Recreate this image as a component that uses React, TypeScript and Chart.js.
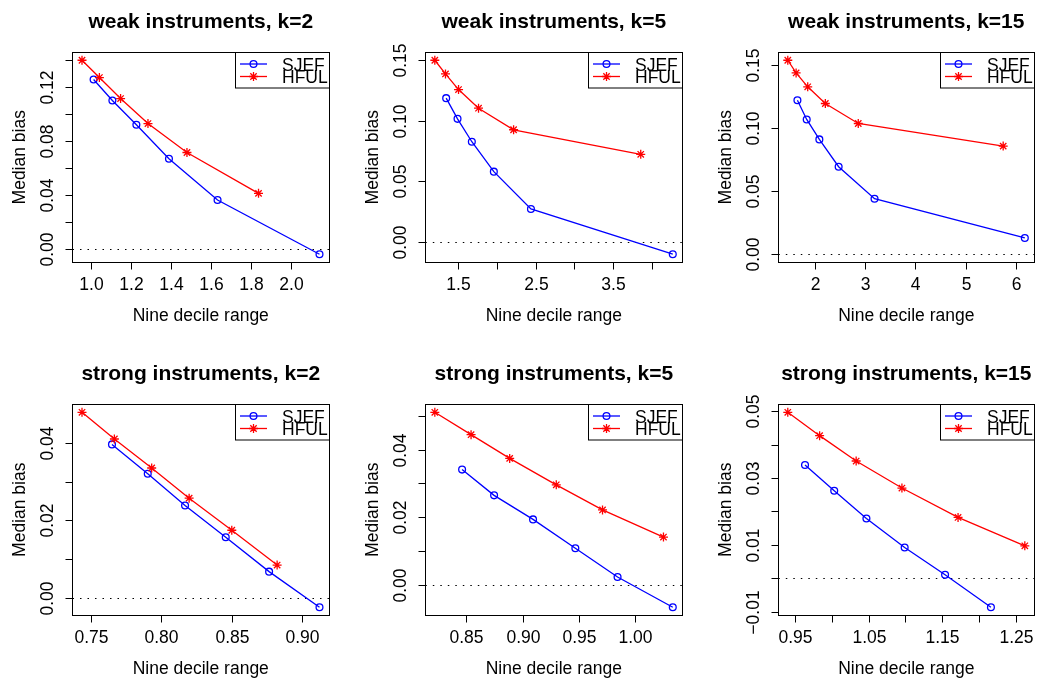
import React, { useEffect, useRef } from "react";
import { Chart, registerables } from "chart.js";
Chart.register(...registerables);

// ---------- data ----------
const weak2Title = "weak instruments, k=2";
const weak2SjefX = [1.013, 1.107, 1.227, 1.39, 1.633, 2.143];
const weak2SjefY = [0.1253, 0.1098, 0.0918, 0.0667, 0.0362, -0.0039];
const weak2HfulX = [0.955, 1.042, 1.148, 1.285, 1.48, 1.838];
const weak2HfulY = [0.1395, 0.1267, 0.1112, 0.0927, 0.0713, 0.0411];
const weak2XTicks = [1.0, 1.2, 1.4, 1.6, 1.8, 2.0];
const weak2XLabels = ["1.0", "1.2", "1.4", "1.6", "1.8", "2.0"];
const weak2YTicks = [0, 0.02, 0.04, 0.06, 0.08, 0.1, 0.12, 0.14];
const weak2YLabels = ["0.00", "", "0.04", "", "0.08", "", "0.12", ""];

const weak5Title = "weak instruments, k=5";
const weak5SjefX = [1.35, 1.496, 1.68, 1.963, 2.44, 4.264];
const weak5SjefY = [0.1187, 0.1016, 0.0827, 0.058, 0.0272, -0.0102];
const weak5HfulX = [1.204, 1.341, 1.509, 1.766, 2.217, 3.852];
const weak5HfulY = [0.15, 0.1387, 0.1258, 0.1104, 0.0926, 0.0723];
const weak5XTicks = [1.5, 2, 2.5, 3, 3.5, 4];
const weak5XLabels = ["1.5", "", "2.5", "", "3.5", ""];
const weak5YTicks = [0, 0.05, 0.1, 0.15];
const weak5YLabels = ["0.00", "0.05", "0.10", "0.15"];

const weak15Title = "weak instruments, k=15";
const weak15SjefX = [1.649, 1.834, 2.086, 2.47, 3.185, 6.179];
const weak15SjefY = [0.1218, 0.1066, 0.0908, 0.0692, 0.0439, 0.0129];
const weak15HfulX = [1.457, 1.623, 1.854, 2.205, 2.861, 5.748];
const weak15HfulY = [0.1534, 0.1434, 0.1324, 0.1192, 0.1034, 0.0855];
const weak15XTicks = [2, 3, 4, 5, 6];
const weak15XLabels = ["2", "3", "4", "5", "6"];
const weak15YTicks = [0, 0.05, 0.1, 0.15];
const weak15YLabels = ["0.00", "0.05", "0.10", "0.15"];

const strong2Title = "strong instruments, k=2";
const strong2SjefX = [0.7649, 0.7903, 0.8168, 0.8457, 0.8765, 0.9123];
const strong2SjefY = [0.0396, 0.032, 0.0238, 0.0156, 0.0067, -0.0025];
const strong2HfulX = [0.7436, 0.7666, 0.7931, 0.8197, 0.85, 0.8822];
const strong2HfulY = [0.0479, 0.041, 0.0335, 0.0257, 0.0174, 0.0084];
const strong2XTicks = [0.75, 0.8, 0.85, 0.9];
const strong2XLabels = ["0.75", "0.80", "0.85", "0.90"];
const strong2YTicks = [0, 0.01, 0.02, 0.03, 0.04];
const strong2YLabels = ["0.00", "", "0.02", "", "0.04"];

const strong5Title = "strong instruments, k=5";
const strong5SjefX = [0.8461, 0.8746, 0.9093, 0.947, 0.9846, 1.0338];
const strong5SjefY = [0.0341, 0.0265, 0.0194, 0.0109, 0.0024, -0.0065];
const strong5HfulX = [0.8218, 0.8541, 0.8885, 0.93, 0.9712, 1.0255];
const strong5HfulY = [0.051, 0.0444, 0.0374, 0.0296, 0.0222, 0.0142];
const strong5XTicks = [0.85, 0.9, 0.95, 1.0];
const strong5XLabels = ["0.85", "0.90", "0.95", "1.00"];
const strong5YTicks = [0, 0.01, 0.02, 0.03, 0.04, 0.05];
const strong5YLabels = ["0.00", "", "0.02", "", "0.04", ""];

const strong15Title = "strong instruments, k=15";
const strong15SjefX = [0.9631, 1.0029, 1.0468, 1.0989, 1.154, 1.2165];
const strong15SjefY = [0.0339, 0.0262, 0.0179, 0.0092, 0.001, -0.0087];
const strong15HfulX = [0.9396, 0.983, 1.0328, 1.0952, 1.1717, 1.2627];
const strong15HfulY = [0.0497, 0.0427, 0.0351, 0.027, 0.0182, 0.0097];
const strong15XTicks = [0.95, 1.0, 1.05, 1.1, 1.15, 1.2, 1.25];
const strong15XLabels = ["0.95", "", "1.05", "", "1.15", "", "1.25"];
const strong15YTicks = [-0.01, 0, 0.01, 0.02, 0.03, 0.04, 0.05];
const strong15YLabels = ["\u22120.01", "", "0.01", "", "0.03", "", "0.05"];

const seriesNames = ["SJEF", "HFUL"];
const xAxisTitle = "Nine decile range";
const yAxisTitle = "Median bias";

// ---------- layout ----------
const colCells = [
  [0, 352],
  [352, 705],
  [705, 1039],
];
const rowCells = [
  [0, 345],
  [345, 678],
];
const colAreas = [
  [72.5, 329],
  [425.3, 682.3],
  [778.3, 1034.3],
];
const rowAreas = [
  [52.5, 262],
  [404.5, 615],
];

const FONT = '"Liberation Sans", Arial, Helvetica, sans-serif';
const BLUE = "#0000ff";
const RED = "#ff0000";
const LW = 1.3;

type PanelDef = {
  title: string;
  sx: number[];
  sy: number[];
  hx: number[];
  hy: number[];
  xt: number[];
  xl: string[];
  yt: number[];
  yl: string[];
  row: number;
  col: number;
};

const panels: PanelDef[] = [
  { title: weak2Title, sx: weak2SjefX, sy: weak2SjefY, hx: weak2HfulX, hy: weak2HfulY, xt: weak2XTicks, xl: weak2XLabels, yt: weak2YTicks, yl: weak2YLabels, row: 0, col: 0 },
  { title: weak5Title, sx: weak5SjefX, sy: weak5SjefY, hx: weak5HfulX, hy: weak5HfulY, xt: weak5XTicks, xl: weak5XLabels, yt: weak5YTicks, yl: weak5YLabels, row: 0, col: 1 },
  { title: weak15Title, sx: weak15SjefX, sy: weak15SjefY, hx: weak15HfulX, hy: weak15HfulY, xt: weak15XTicks, xl: weak15XLabels, yt: weak15YTicks, yl: weak15YLabels, row: 0, col: 2 },
  { title: strong2Title, sx: strong2SjefX, sy: strong2SjefY, hx: strong2HfulX, hy: strong2HfulY, xt: strong2XTicks, xl: strong2XLabels, yt: strong2YTicks, yl: strong2YLabels, row: 1, col: 0 },
  { title: strong5Title, sx: strong5SjefX, sy: strong5SjefY, hx: strong5HfulX, hy: strong5HfulY, xt: strong5XTicks, xl: strong5XLabels, yt: strong5YTicks, yl: strong5YLabels, row: 1, col: 1 },
  { title: strong15Title, sx: strong15SjefX, sy: strong15SjefY, hx: strong15HfulX, hy: strong15HfulY, xt: strong15XTicks, xl: strong15XLabels, yt: strong15YTicks, yl: strong15YLabels, row: 1, col: 2 },
];

function rRange(vals: number[]) {
  const mn = Math.min(...vals);
  const mx = Math.max(...vals);
  const ext = (mx - mn) * 0.04;
  return [mn - ext, mx + ext];
}

function drawStar(ctx: CanvasRenderingContext2D, x: number, y: number, r: number) {
  const d = r * Math.SQRT1_2;
  ctx.beginPath();
  ctx.moveTo(x - r, y);
  ctx.lineTo(x + r, y);
  ctx.moveTo(x, y - r);
  ctx.lineTo(x, y + r);
  ctx.moveTo(x - d, y - d);
  ctx.lineTo(x + d, y + d);
  ctx.moveTo(x - d, y + d);
  ctx.lineTo(x + d, y - d);
  ctx.stroke();
}

function makePlugin(p: PanelDef) {
  return {
    id: "rstyle",
    beforeDatasetsDraw(chart: any) {
      const { ctx, chartArea } = chart;
      const ys = chart.scales.y;
      const y0 = Math.round(ys.getPixelForValue(0)) + 0.5;
      ctx.save();
      ctx.strokeStyle = "#000";
      ctx.lineWidth = 1;
      ctx.setLineDash([1.5, 6]);
      ctx.beginPath();
      ctx.moveTo(chartArea.left, y0);
      ctx.lineTo(chartArea.right, y0);
      ctx.stroke();
      ctx.restore();
    },
    afterDraw(chart: any) {
      const { ctx, chartArea } = chart;
      const xs = chart.scales.x;
      const ys = chart.scales.y;
      const L = chartArea.left;
      const R = chartArea.right;
      const T = chartArea.top;
      const B = chartArea.bottom;
      ctx.save();
      ctx.strokeStyle = "#000";
      ctx.fillStyle = "#000";
      ctx.lineWidth = 1;
      ctx.setLineDash([]);
      // box
      const bl = Math.floor(L) + 0.5;
      const br = Math.floor(R) + 0.5;
      const bt = Math.floor(T) + 0.5;
      const bb = Math.floor(B) + 0.5;
      ctx.strokeRect(bl, bt, br - bl, bb - bt);
      // x ticks
      ctx.font = `17.5px ${FONT}`;
      ctx.textAlign = "center";
      ctx.textBaseline = "alphabetic";
      p.xt.forEach((v, i) => {
        const px = Math.round(xs.getPixelForValue(v)) + 0.5;
        ctx.beginPath();
        ctx.moveTo(px, bb);
        ctx.lineTo(px, bb + 7);
        ctx.stroke();
        if (p.xl[i]) ctx.fillText(p.xl[i], px, B + 28);
      });
      // y ticks
      p.yt.forEach((v, i) => {
        const py = Math.round(ys.getPixelForValue(v)) + 0.5;
        ctx.beginPath();
        ctx.moveTo(bl, py);
        ctx.lineTo(bl - 7, py);
        ctx.stroke();
        if (p.yl[i]) {
          ctx.save();
          ctx.translate(L - 19.5, py);
          ctx.rotate(-Math.PI / 2);
          ctx.fillText(p.yl[i], 0, 0);
          ctx.restore();
        }
      });
      // axis titles
      ctx.fillText(xAxisTitle, (L + R) / 2, B + 58.5);
      ctx.save();
      ctx.translate(L - 47.7, (T + B) / 2);
      ctx.rotate(-Math.PI / 2);
      ctx.fillText(yAxisTitle, 0, 0);
      ctx.restore();
      // main title
      ctx.font = `bold 21px ${FONT}`;
      ctx.fillText(p.title, (L + R) / 2, T - 25);
      // legend
      const lw = 94;
      const lh = 35.5;
      const lx = Math.floor(R - lw) + 0.5;
      ctx.fillStyle = "#fff";
      ctx.fillRect(lx, bt, br - lx, lh);
      ctx.strokeStyle = "#000";
      ctx.strokeRect(lx, bt, br - lx, lh);
      const rows = [
        { y: T + 11.5, c: BLUE, star: false, name: seriesNames[0] },
        { y: T + 24, c: RED, star: true, name: seriesNames[1] },
      ];
      rows.forEach((r) => {
        ctx.strokeStyle = r.c;
        ctx.lineWidth = LW;
        ctx.beginPath();
        ctx.moveTo(lx + 4.5, r.y);
        ctx.lineTo(lx + 31.5, r.y);
        ctx.stroke();
        if (r.star) {
          drawStar(ctx, lx + 18, r.y, 4.5);
        } else {
          ctx.beginPath();
          ctx.arc(lx + 18, r.y, 3.4, 0, Math.PI * 2);
          ctx.stroke();
        }
      });
      ctx.fillStyle = "#000";
      ctx.font = `17.5px ${FONT}`;
      ctx.textAlign = "left";
      rows.forEach((r) => {
        ctx.fillText(r.name, lx + 46.5, r.y + 6.5);
      });
      ctx.restore();
    },
  };
}

function PanelChart({ p }: { p: PanelDef }) {
  const ref = useRef<HTMLCanvasElement>(null);
  const [cx0, cx1] = colCells[p.col];
  const [cy0, cy1] = rowCells[p.row];
  const [ax0, ax1] = colAreas[p.col];
  const [ay0, ay1] = rowAreas[p.row];
  const w = cx1 - cx0;
  const h = cy1 - cy0;

  useEffect(() => {
    if (!ref.current) return;
    const [xmin, xmax] = rRange([...p.sx, ...p.hx]);
    const [ymin, ymax] = rRange([...p.sy, ...p.hy, 0]);
    const chart = new Chart(ref.current, {
      type: "scatter",
      data: {
        datasets: [
          {
            label: seriesNames[1],
            data: p.hx.map((x, i) => ({ x, y: p.hy[i] })),
            showLine: true,
            borderColor: RED,
            backgroundColor: RED,
            borderWidth: LW,
            pointStyle: "star",
            pointRadius: 4.5,
            pointBorderWidth: LW,
            pointBorderColor: RED,
            pointBackgroundColor: RED,
          },
          {
            label: seriesNames[0],
            data: p.sx.map((x, i) => ({ x, y: p.sy[i] })),
            showLine: true,
            borderColor: BLUE,
            backgroundColor: "rgba(0,0,0,0)",
            borderWidth: LW,
            pointStyle: "circle",
            pointRadius: 3.4,
            pointBorderWidth: LW,
            pointBorderColor: BLUE,
            pointBackgroundColor: "rgba(0,0,0,0)",
          },
        ],
      },
      options: {
        responsive: false,
        maintainAspectRatio: false,
        animation: false,
        events: [],
        layout: {
          autoPadding: false,
          padding: {
            left: ax0 - cx0,
            right: cx1 - ax1,
            top: ay0 - cy0,
            bottom: cy1 - ay1,
          },
        },
        scales: {
          x: { type: "linear", display: false, min: xmin, max: xmax },
          y: { type: "linear", display: false, min: ymin, max: ymax },
        },
        plugins: {
          legend: { display: false },
          tooltip: { enabled: false },
          title: { display: false },
        },
      } as any,
      plugins: [makePlugin(p)],
    });
    return () => chart.destroy();
  }, []);

  return (
    <canvas
      ref={ref}
      width={w}
      height={h}
      style={{ position: "absolute", left: cx0, top: cy0, width: w, height: h, display: "block" }}
    />
  );
}

export default function App() {
  return (
    <div style={{ position: "absolute", left: 0, top: 0, width: 1039, height: 678, background: "#fff" }}>
      {panels.map((p, i) => (
        <PanelChart key={i} p={p} />
      ))}
    </div>
  );
}
